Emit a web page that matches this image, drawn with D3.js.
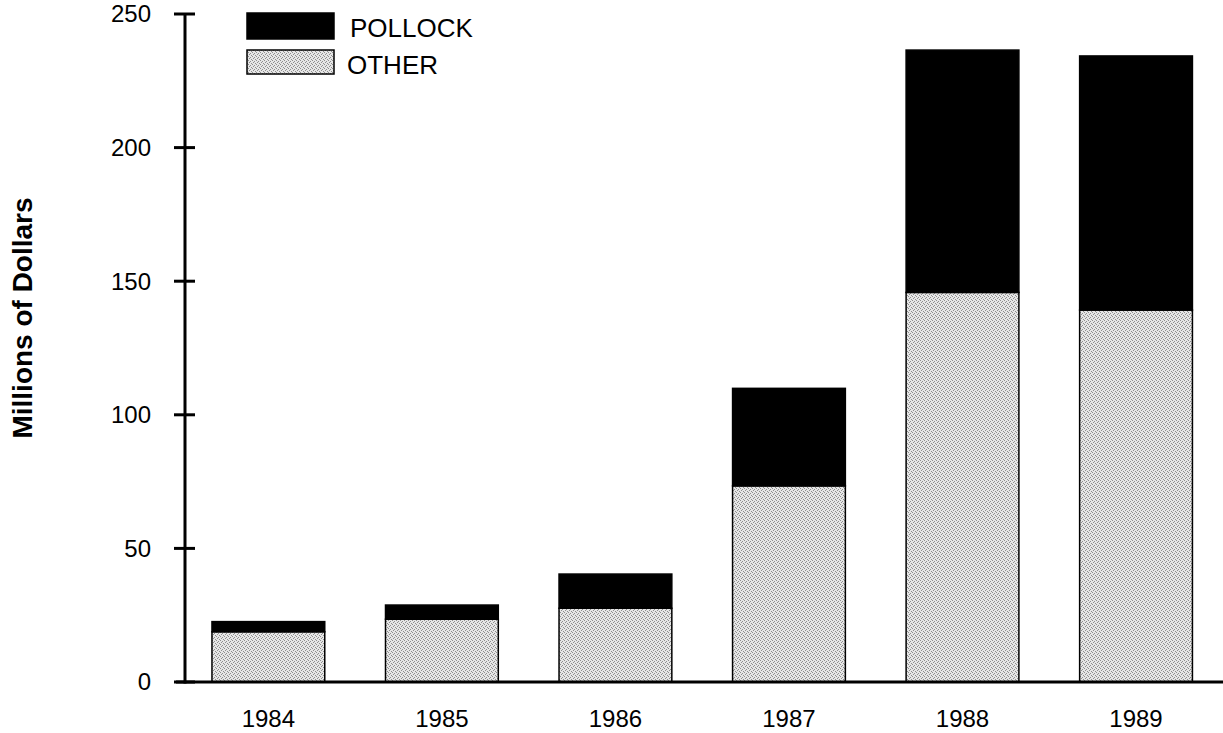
<!DOCTYPE html>
<html>
<head>
<meta charset="utf-8">
<script src="https://cdn.jsdelivr.net/npm/d3@7"></script>
<style>
  html, body { margin: 0; padding: 0; background: #fff; }
  svg { display: block; font-family: "Liberation Sans", Arial, Helvetica, sans-serif; }
</style>
</head>
<body>
<svg id="chart" width="1223" height="733"></svg>
<script>
// Annual values, millions of dollars
const years = ["1984", "1985", "1986", "1987", "1988", "1989"];
const other = [18.8, 23.5, 27.6, 73.4, 145.8, 139.2];
const pollock = [3.8, 5.3, 12.8, 36.5, 90.7, 95.1];
const yTicks = [0, 50, 100, 150, 200, 250];
const seriesNames = ["POLLOCK", "OTHER"];

const svg = d3.select("#chart");

// dithered grey fill for the OTHER segments
const defs = svg.append("defs");
const pat = defs.append("pattern")
  .attr("id", "dither")
  .attr("patternUnits", "userSpaceOnUse")
  .attr("width", 4).attr("height", 4);
pat.append("rect").attr("width", 4).attr("height", 4).attr("fill", "#e6e6e6");
[[0, 0], [2, 1], [1, 2], [3, 3]].forEach(([px, py]) => {
  pat.append("rect").attr("x", px).attr("y", py).attr("width", 1).attr("height", 1).attr("fill", "#8e8e8e");
});

const y = d3.scaleLinear().domain([0, 250]).range([682, 14]);
const x = d3.scaleBand().domain(years).range([181.6, 1222.8])
  .paddingInner(0.35).paddingOuter(0.175);

const rows = years.map((yr, i) => ({ year: yr, OTHER: other[i], POLLOCK: pollock[i] }));
const stack = d3.stack().keys(["OTHER", "POLLOCK"])(rows);

// bars
const fills = { OTHER: "url(#dither)", POLLOCK: "#000" };
stack.forEach(layer => {
  svg.append("g").selectAll("rect")
    .data(layer)
    .join("rect")
    .attr("x", d => x(d.data.year))
    .attr("width", x.bandwidth())
    .attr("y", d => y(d[1]))
    .attr("height", d => y(d[0]) - y(d[1]))
    .attr("fill", fills[layer.key])
    .attr("stroke", "#000")
    .attr("stroke-width", 1.5);
});

// y axis with cross ticks
const axisX = 185;
const yAxis = svg.append("g");
yAxis.append("line")
  .attr("x1", axisX).attr("x2", axisX)
  .attr("y1", y(250)).attr("y2", y(0) + 1.5)
  .attr("stroke", "#000").attr("stroke-width", 3);
yAxis.selectAll("line.tick")
  .data(yTicks)
  .join("line")
  .attr("class", "tick")
  .attr("x1", axisX - 11).attr("x2", axisX + 10)
  .attr("y1", d => y(d)).attr("y2", d => y(d))
  .attr("stroke", "#000").attr("stroke-width", 3);
yAxis.selectAll("text")
  .data(yTicks)
  .join("text")
  .attr("x", 151)
  .attr("y", d => y(d))
  .attr("dy", "0.35em")
  .attr("text-anchor", "end")
  .attr("font-size", 24)
  .text(d => d);

// x axis baseline and year labels
svg.append("line")
  .attr("x1", 176).attr("x2", 1223)
  .attr("y1", y(0)).attr("y2", y(0))
  .attr("stroke", "#000").attr("stroke-width", 3);
svg.append("g").selectAll("text")
  .data(years)
  .join("text")
  .attr("x", d => x(d) + x.bandwidth() / 2)
  .attr("y", 727)
  .attr("text-anchor", "middle")
  .attr("font-size", 24)
  .text(d => d);

// axis title
svg.append("text")
  .attr("transform", "translate(32,318) rotate(-90)")
  .attr("text-anchor", "middle")
  .attr("font-size", 28)
  .attr("font-weight", "bold")
  .text("Millions of Dollars");

// legend
const legend = svg.append("g");
const legendFill = { POLLOCK: "#000", OTHER: "url(#dither)" };
const legendTop = [13, 50];
seriesNames.forEach((name, i) => {
  legend.append("rect")
    .attr("x", 247).attr("y", legendTop[i])
    .attr("width", 87).attr("height", i === 0 ? 26 : 24)
    .attr("fill", legendFill[name])
    .attr("stroke", "#000").attr("stroke-width", 1.5);
  legend.append("text")
    .attr("x", i === 0 ? 350 : 347)
    .attr("y", legendTop[i] + 24)
    .attr("font-size", 26)
    .text(name);
});
</script>
</body>
</html>
